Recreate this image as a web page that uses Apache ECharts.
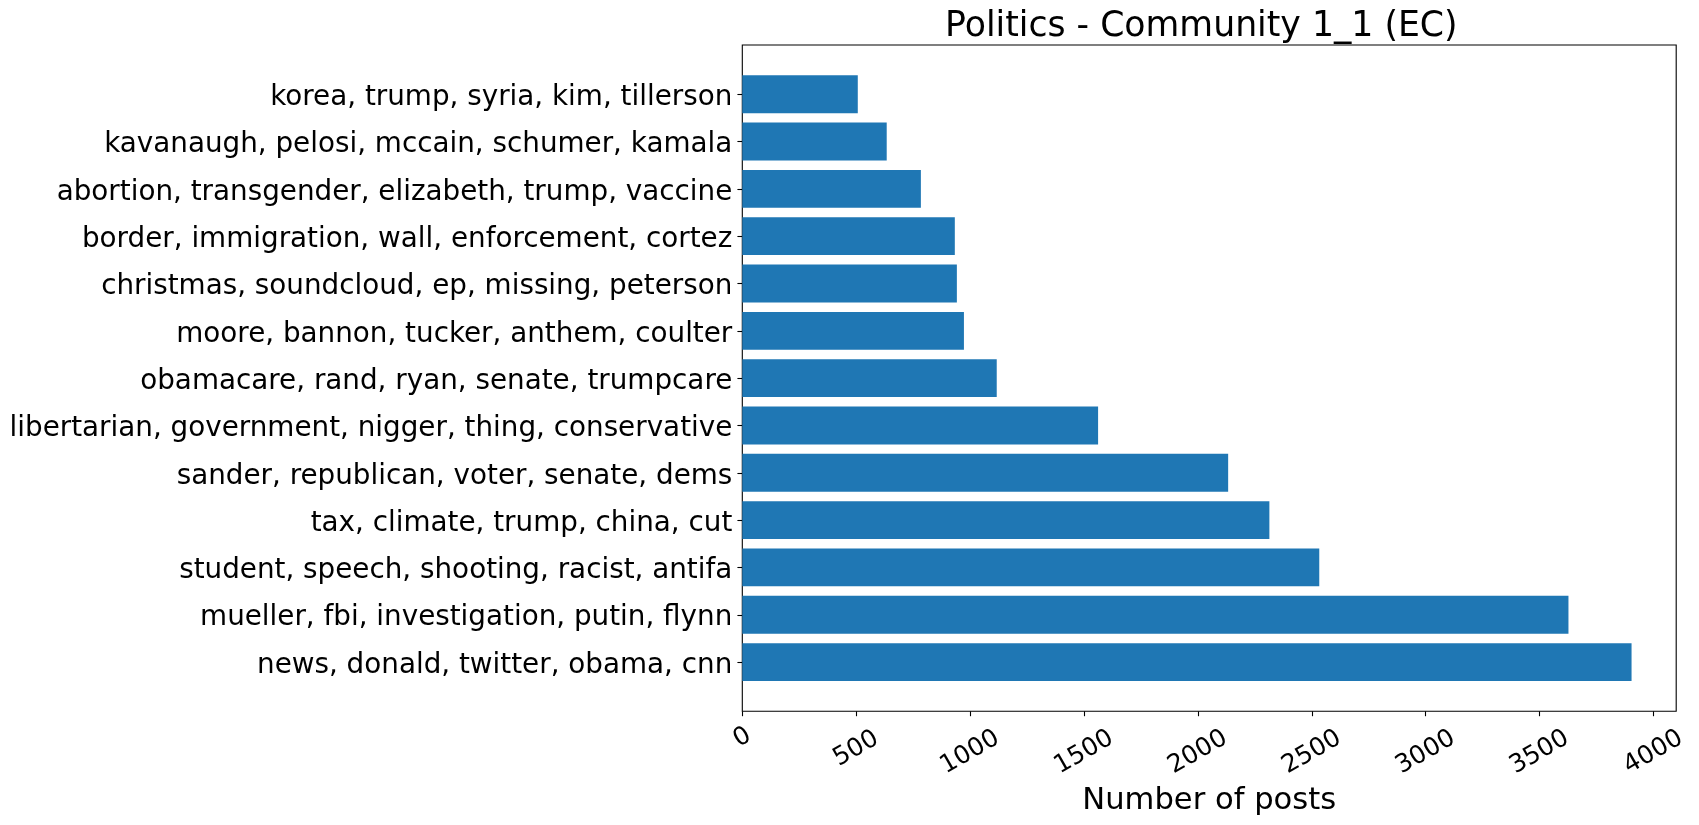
<!DOCTYPE html>
<html>
<head>
<meta charset="utf-8">
<script src="https://cdn.jsdelivr.net/npm/echarts@6/dist/echarts.min.js"></script>
<style>
html,body{margin:0;padding:0;background:#fff;}
#chart{width:1699px;height:825px;}
</style>
</head>
<body>
<div id="chart"></div>
<script>
const titleText = 'Politics - Community 1_1 (EC)';
const xAxisName = 'Number of posts';
const categories = [
  'korea, trump, syria, kim, tillerson',
  'kavanaugh, pelosi, mccain, schumer, kamala',
  'abortion, transgender, elizabeth, trump, vaccine',
  'border, immigration, wall, enforcement, cortez',
  'christmas, soundcloud, ep, missing, peterson',
  'moore, bannon, tucker, anthem, coulter',
  'obamacare, rand, ryan, senate, trumpcare',
  'libertarian, government, nigger, thing, conservative',
  'sander, republican, voter, senate, dems',
  'tax, climate, trump, china, cut',
  'student, speech, shooting, racist, antifa',
  'mueller, fbi, investigation, putin, flynn',
  'news, donald, twitter, obama, cnn'
];
const posts = [507, 634, 784, 933, 942, 973, 1117, 1562, 2133, 2314, 2533, 3627, 3904];
const xTicks = [0, 500, 1000, 1500, 2000, 2500, 3000, 3500, 4000];

const FONT = 'DejaVu Sans';
const frame = {left: 742.3, top: 45, width: 933.9, height: 666.3};
const unit = frame.height / 14.08;
const bandTop = frame.top + 0.54 * unit;
const bandBottom = frame.top + frame.height - 0.54 * unit;

const chart = echarts.init(document.getElementById('chart'), null, {renderer: 'canvas'});
chart.setOption({
  animation: false,
  backgroundColor: '#ffffff',
  title: {
    text: titleText,
    left: 945,
    top: 9,
    padding: 0,
    textStyle: {fontFamily: FONT, fontSize: 34.7, fontWeight: 'normal', color: '#000', lineHeight: 36}
  },
  grid: [
    {left: frame.left, top: bandTop, width: frame.width, height: bandBottom - bandTop, containLabel: false},
    {left: frame.left, top: frame.top, width: frame.width, height: frame.height, show: true,
     borderColor: '#000', borderWidth: 1.1, backgroundColor: 'transparent', containLabel: false}
  ],
  xAxis: [
    {
      type: 'value', gridIndex: 0, min: 0, max: 4100,
      offset: (frame.top + frame.height) - bandBottom,
      splitLine: {show: false},
      axisLine: {show: false},
      axisTick: {show: true, inside: false, length: 4.9, lineStyle: {color: '#000', width: 1.1}, customValues: xTicks},
      axisLabel: {
        customValues: xTicks,
        rotate: 30,
        align: 'center',
        verticalAlign: 'middle',
        margin: 41,
        fontFamily: FONT, fontSize: 25, color: '#000',
        formatter: function (v) { return '{d' + String(v).length + '|' + v + '}'; },
        rich: {
          d1: {fontFamily: FONT, fontSize: 25, color: '#000', padding: [0, 0, 25.5, 14.7]},
          d3: {fontFamily: FONT, fontSize: 25, color: '#000', padding: [0, 0, 6.1, 3.5]},
          d4: {fontFamily: FONT, fontSize: 25, color: '#000'}
        }
      },
      name: xAxisName,
      nameLocation: 'middle',
      nameGap: 74,
      nameTextStyle: {fontFamily: FONT, fontSize: 30.6, color: '#000', lineHeight: 30}
    },
    {type: 'value', gridIndex: 1, show: false, min: 0, max: 1}
  ],
  yAxis: [
    {
      type: 'category', gridIndex: 0, data: categories, inverse: true,
      axisLine: {show: false},
      axisTick: {show: true, alignWithLabel: true, length: 4.9, lineStyle: {color: '#000', width: 1.1}},
      axisLabel: {
        fontFamily: FONT, fontSize: 27.8, color: '#000', margin: 10,
        formatter: function (v) { return '{c|' + v + '}'; },
        rich: {c: {fontFamily: FONT, fontSize: 27.8, color: '#000', padding: [7, 0, 0, 0]}}
      },
      splitLine: {show: false}
    },
    {type: 'value', gridIndex: 1, show: false, min: 0, max: 1}
  ],
  series: [
    {
      type: 'bar', xAxisIndex: 0, yAxisIndex: 0,
      data: posts, barWidth: '80%',
      itemStyle: {color: '#1f77b4'}
    }
  ]
});
</script>
</body>
</html>
